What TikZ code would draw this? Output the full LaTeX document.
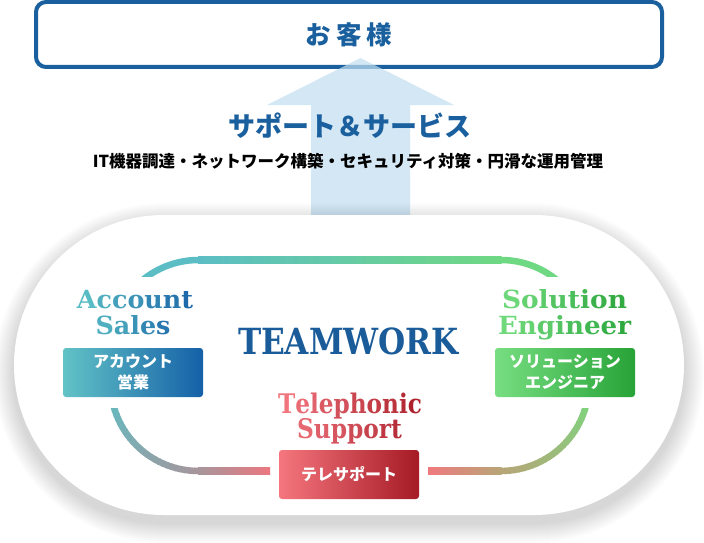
\documentclass[tikz,border=0pt]{standalone}
\usepackage{fontspec}
\usepackage{graphicx}
\newfontfamily\jpfont{Noto Sans CJK JP}
\newfontfamily\slab{DejaVu Serif}
\newfontfamily\slabsp{DejaVu Serif}[LetterSpace=8]
\definecolor{cBlue}{HTML}{1A5F9E}
\definecolor{cTeam}{HTML}{1A5C99}
\definecolor{cArrow}{HTML}{C3DEF0}
\definecolor{cTeal}{HTML}{5CBEC4}
\definecolor{cGreen}{HTML}{6FD883}
\definecolor{cGreenB}{HTML}{76DA80}
\definecolor{cMauve}{HTML}{A6969C}
\definecolor{cPinkL}{HTML}{EC777F}
\definecolor{cPinkR}{HTML}{EF7A7E}
\definecolor{cTan}{HTML}{B7A677}
\definecolor{accL}{HTML}{5EC3C6}
\definecolor{accR}{HTML}{1862A8}
\definecolor{solL}{HTML}{74DC7F}
\definecolor{solR}{HTML}{2AA63C}
\definecolor{telL}{HTML}{F47A82}
\definecolor{telR}{HTML}{A81C28}
\definecolor{accBL}{HTML}{62C3C6}
\definecolor{accBR}{HTML}{1560A8}
\definecolor{solBL}{HTML}{77DE81}
\definecolor{solBR}{HTML}{27A337}
\definecolor{telBL}{HTML}{F5767E}
\definecolor{telBR}{HTML}{A51A25}
\newcommand\gc[2]{\textcolor{cR!#1!cL}{#2}}
\tikzset{
  loopline/.style={line width=6.5pt, line cap=butt},
  lbl/.style={anchor=base, inner sep=0pt},
  jbox/.style={rounded corners=3pt, minimum width=140pt, minimum height=49pt, align=center, text=white, inner sep=0pt, font=\jpfont\bfseries\fontsize{16}{21}\selectfont},
  lblfont/.style={font=\slabsp\bfseries\fontsize{25}{25}\selectfont},
  telfont/.style={font=\slab\bfseries\fontsize{27}{27}\selectfont},
}
\begin{document}
\begin{tikzpicture}[x=1pt,y=-1pt]
\useasboundingbox (0,0) rectangle (704,543);
\fill[white] (0,0) rectangle (704,543);
% customer box
\node[draw=cBlue, line width=4pt, rounded corners=10pt, minimum width=626pt, minimum height=65pt, fill=white, text=cBlue, font=\jpfont\bfseries\fontsize{25.5}{25.5}\selectfont] (kyaku) at (349,34.5) {お\hspace{5pt}客\hspace{5pt}様};
% arrow
\fill[cArrow, opacity=0.7] (311,222) -- (311,105) -- (267,105) -- (360.5,58) -- (454,105) -- (410,105) -- (410,222) -- cycle;
\node[text=cBlue, font=\jpfont\bfseries\fontsize{27}{27}\selectfont] (title) at (350,126) {サポート＆サービス};
\node[text=black, font=\jpfont\bfseries\fontsize{16.5}{16.5}\selectfont] (sub) at (348,161) {IT機器調達・ネットワーク構築・セキュリティ対策・円滑な運用管理};
% soft shadow of the stadium
\foreach \k in {1,...,20}{
  \pgfmathsetmacro\rr{150+\k}
  \fill[black, opacity=0.0075, rounded corners=\rr pt] ({14-\k},{215-\k+8}) rectangle ({684+\k},{515+\k+8});
}
% stadium
\fill[white, rounded corners=150pt] (14,215) rectangle (684,515);
% loop
\draw[loopline, cTeal] plot[domain=180:271, samples=40] ({198.5+88*cos(\x)},{348+88*sin(\x)});
\shade[left color=cTeal, right color=cGreen] (198,256.75) rectangle (501.5,263.25);
\draw[loopline, cGreen] plot[domain=269:360, samples=40] ({501+88*cos(\x)},{348+88*sin(\x)});
\foreach \i in {0,...,29}{
  \pgfmathsetmacro\aa{3*\i}
  \pgfmathsetmacro\ab{3*\i+3.6}
  \pgfmathtruncatemacro\pp{round(100*\i/29)}
  \draw[loopline, draw=cTan!\pp!cGreenB] ({501+88*cos(\aa)},{383+88*sin(\aa)}) -- ({501+88*cos(\ab)},{383+88*sin(\ab)});
}
\shade[left color=cPinkR, right color=cTan] (428,467.75) rectangle (501.5,474.25);
\foreach \i in {0,...,29}{
  \pgfmathsetmacro\aa{89.5+3*\i}
  \pgfmathsetmacro\ab{89.5+3*\i+3.6}
  \pgfmathtruncatemacro\pp{round(100*\i/29)}
  \draw[loopline, draw=cTeal!\pp!cMauve] ({198.5+88*cos(\aa)},{383+88*sin(\aa)}) -- ({198.5+88*cos(\ab)},{383+88*sin(\ab)});
}
\shade[left color=cMauve, right color=cPinkL] (198,467.75) rectangle (270,474.25);
% gaps in the loop
\fill[white] (95,277) rectangle (178,408);
\fill[white] (522,277) rectangle (605,408);
% teamwork
\node[lbl, text=cTeam] (team) at (348.5,354) {\resizebox{221pt}{\height}{\slab\bfseries\fontsize{36}{36}\selectfont TEAMWORK}};
% account sales
\node[lbl, lblfont] (acc1) at (135,308) {\colorlet{cL}{accL}\colorlet{cR}{accR}\resizebox{116pt}{\height}{\gc{7}{A}\gc{21}{c}\gc{36}{c}\gc{50}{o}\gc{64}{u}\gc{79}{n}\gc{93}{t}}};
\node[lbl, lblfont] (acc2) at (133,334) {\colorlet{cL}{accL}\colorlet{cR}{accR}\resizebox{75pt}{\height}{\gc{22}{S}\gc{35}{a}\gc{50}{l}\gc{63}{e}\gc{78}{s}}};
\node[jbox, left color=accBL, right color=accBR] (accbox) at (133,372.5) {アカウント\\営業};
% solution engineer
\node[lbl, lblfont] (sol1) at (564.5,308) {\colorlet{cL}{solL}\colorlet{cR}{solR}\resizebox{125pt}{\height}{\gc{9}{S}\gc{21}{o}\gc{32}{l}\gc{44}{u}\gc{56}{t}\gc{68}{i}\gc{79}{o}\gc{91}{n}}};
\node[lbl, lblfont] (sol2) at (564.5,334) {\colorlet{cL}{solL}\colorlet{cR}{solR}\resizebox{133pt}{\height}{\gc{6}{E}\gc{19}{n}\gc{31}{g}\gc{44}{i}\gc{56}{n}\gc{69}{e}\gc{81}{e}\gc{94}{r}}};
\node[jbox, left color=solBL, right color=solBR] (solbox) at (565,372.5) {ソリューション\\エンジニア};
% telephonic support
\node[lbl, telfont] (tel1) at (350,413) {\colorlet{cL}{telL}\colorlet{cR}{telR}\resizebox{144pt}{\height}{\gc{5}{T}\gc{15}{e}\gc{25}{l}\gc{35}{e}\gc{45}{p}\gc{55}{h}\gc{65}{o}\gc{75}{n}\gc{85}{i}\gc{95}{c}}};
\node[lbl, telfont] (tel2) at (349.5,438) {\colorlet{cL}{telL}\colorlet{cR}{telR}\resizebox{105pt}{\height}{\gc{18}{S}\gc{29}{u}\gc{39}{p}\gc{50}{p}\gc{60}{o}\gc{71}{r}\gc{81}{t}}};
\node[jbox, left color=telBL, right color=telBR] (telbox) at (349,474.5) {テレサポート};
\end{tikzpicture}
\end{document}
